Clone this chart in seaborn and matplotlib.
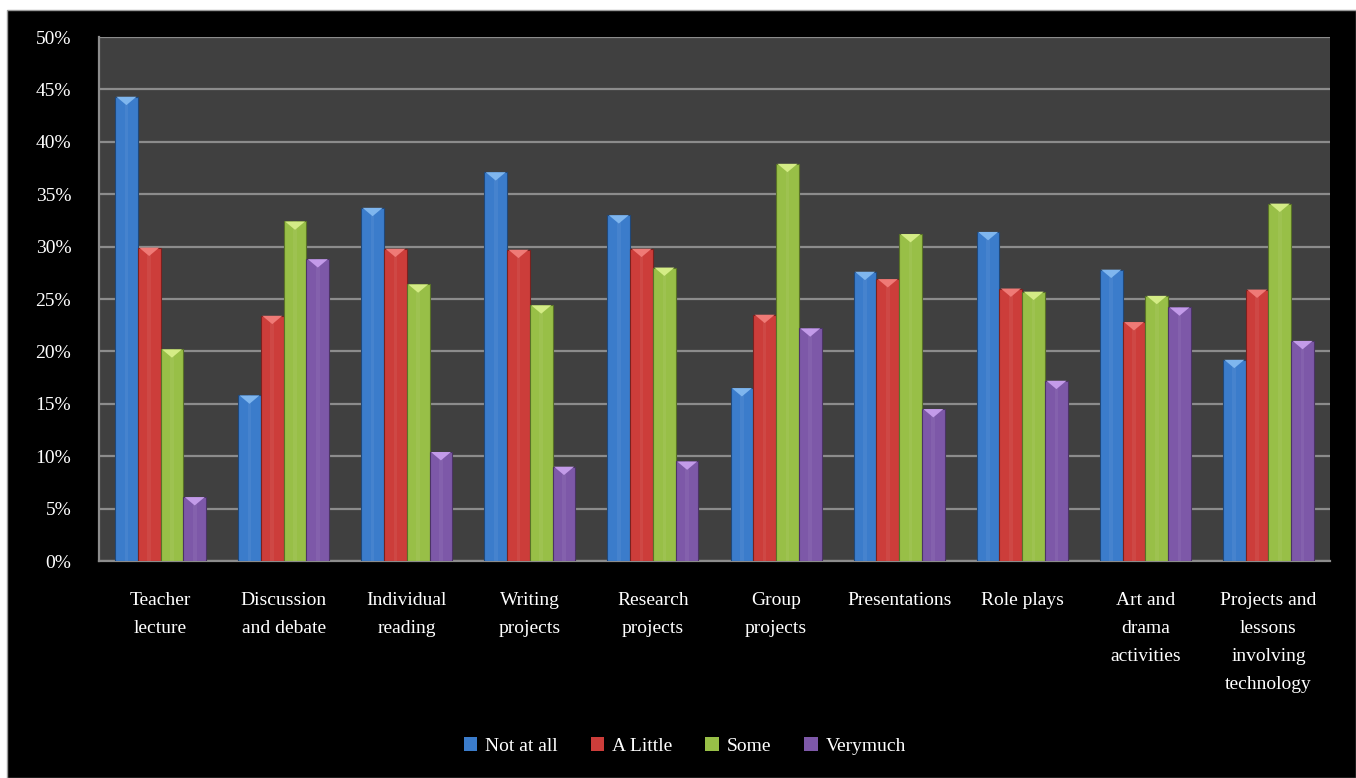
import numpy as np
import pandas as pd
import matplotlib
matplotlib.use("Agg")
import matplotlib.pyplot as plt
from matplotlib.patches import Rectangle, Polygon
import seaborn as sns

categories = ["Teacher\nlecture", "Discussion\nand debate", "Individual\nreading",
              "Writing\nprojects", "Research\nprojects", "Group\nprojects",
              "Presentations", "Role plays", "Art and\ndrama\nactivities",
              "Projects and\nlessons\ninvolving\ntechnology"]
series_names = ["Not at all", "A Little", "Some", "Verymuch"]
not_at_all = [44.3, 15.8, 33.7, 37.1, 33.0, 16.5, 27.6, 31.4, 27.8, 19.2]
a_little = [29.9, 23.4, 29.8, 29.7, 29.8, 23.5, 26.9, 26.0, 22.8, 25.9]
some = [20.2, 32.4, 26.4, 24.4, 28.0, 37.9, 31.2, 25.7, 25.3, 34.1]
verymuch = [6.1, 28.8, 10.4, 9.0, 9.5, 22.2, 14.5, 17.2, 24.2, 21.0]
y_ticks = [0, 5, 10, 15, 20, 25, 30, 35, 40, 45, 50]

colors = ["#3b7ccb", "#cc3d3a", "#98bf47", "#7d58a8"]
tops = ["#7fb6ee", "#ef7a76", "#d4ec86", "#c39be9"]

df = pd.DataFrame({
    "Method": categories * 4,
    "Response": sum([[s] * len(categories) for s in series_names], []),
    "Value": not_at_all + a_little + some + verymuch,
})

sns.set_theme(style="dark")
plt.rcParams["font.family"] = ["Liberation Serif", "DejaVu Serif"]

W, H = 1356, 778
fig = plt.figure(figsize=(W / 100, H / 100), dpi=100, facecolor="white")
fig.patches.append(Rectangle((7 / W, 0), 1 - 7 / W, (H - 10) / H,
                             transform=fig.transFigure, facecolor="black",
                             edgecolor="#9a9a9a", linewidth=1, zorder=-10))

ax = fig.add_axes([99 / W, (H - 561) / H, (1330 - 99) / W, (561 - 37) / H])
ax.set_facecolor("#404040")

sns.barplot(data=df, x="Method", y="Value", hue="Response", order=categories,
            hue_order=series_names, palette=colors, saturation=1, width=0.74,
            ax=ax, zorder=3)

# bevel decoration derived from each bar's own geometry
dy = 0.8
for cont, dark, light in zip(ax.containers, colors, tops):
    for bar in cont:
        x, w, h = bar.get_x(), bar.get_width(), bar.get_height()
        bar.set_edgecolor(sns.utils.set_hls_values(dark, l=0.3))
        bar.set_linewidth(0.8)
        ax.add_patch(Rectangle((x + w * 0.42, 0), w * 0.16, h, facecolor="white",
                               alpha=0.06, linewidth=0, zorder=4))
        ax.add_patch(Polygon([(x + w * 0.06, h), (x + w * 0.94, h), (x + w * 0.5, h - dy)],
                             closed=True, facecolor=light, edgecolor="none", zorder=5))

ax.set_ylim(0, 50)
ax.set_yticks(y_ticks)
ax.set_yticklabels([f"{v}%" for v in y_ticks])
ax.yaxis.grid(True, color="#8c8c8c", linewidth=1.6, zorder=0)
ax.xaxis.grid(False)
ax.set_axisbelow(True)
ax.set_xlabel("")
ax.set_ylabel("")
for side in ["top", "right"]:
    ax.spines[side].set_visible(False)
for side in ["left", "bottom"]:
    ax.spines[side].set_visible(True)
    ax.spines[side].set_color("#8c8c8c")
    ax.spines[side].set_linewidth(1.6)
ax.tick_params(axis="x", colors="white", labelsize=14, pad=22, length=0)
ax.tick_params(axis="y", colors="white", labelsize=14, pad=20, length=0)
for lab in ax.get_xticklabels():
    lab.set_linespacing(1.85)
    lab.set_verticalalignment("top")

sns.move_legend(ax, "center", bbox_to_anchor=(0.505, (H - 746) / H),
                bbox_transform=fig.transFigure, ncol=4, frameon=False, title=None,
                fontsize=14, handlelength=0.7, handleheight=0.7, handletextpad=0.4,
                columnspacing=1.7, labelcolor="white")
for hdl in ax.get_legend().legend_handles:
    hdl.set_edgecolor("none")

fig.savefig("out.png", dpi=100, facecolor=fig.get_facecolor())
